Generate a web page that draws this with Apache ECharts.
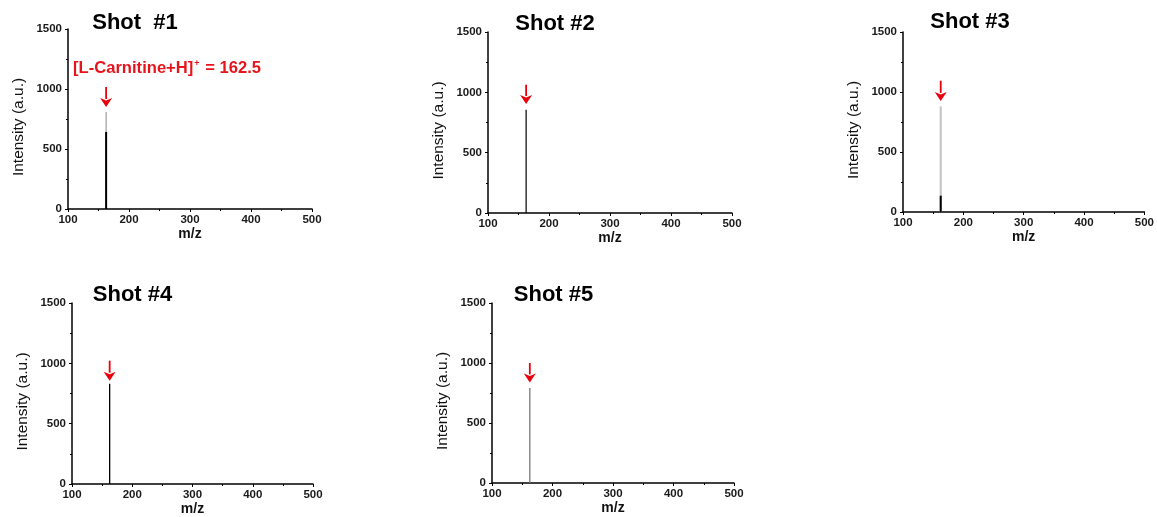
<!DOCTYPE html>
<html><head><meta charset="utf-8">
<script src="https://cdn.jsdelivr.net/npm/echarts@6/dist/echarts.min.js"></script>
<style>html,body{margin:0;padding:0;background:#fff}#c{width:1157px;height:517px}</style>
</head><body><div id="c"></div>
<script>
// ---- data ----
const shotTitles = ['Shot  #1', 'Shot #2', 'Shot #3', 'Shot #4', 'Shot #5'];
const xTickValues = [100, 200, 300, 400, 500];
const yTickValues = [0, 500, 1000, 1500];
const xAxisName = 'm/z';
const yAxisName = 'Intensity (a.u.)';
const peakMz = [162.5, 162.5, 162.5, 162.5, 162.5];
const lightTrace = [808, 0, 880, 0, 792];   // grey spectrum trace peak intensity
const darkTrace = [642, 856, 136, 831, 0];   // black spectrum trace peak intensity
const arrowTop = [1017, 1063, 1094, 1022, 1000];
const arrowTip = [850, 903, 926, 856, 838];
const annotationMain = '[L-Carnitine+H]';
const annotationSup = '+';
const annotationTail = ' = 162.5';

// ---- layout / style ----
const FONT = '"Liberation Sans", Arial, sans-serif';
const grids = [
  {left: 68, top: 29, width: 244, height: 180},
  {left: 488, top: 32, width: 244, height: 181},
  {left: 903, top: 32, width: 244, height: 180},
  {left: 72, top: 303, width: 241, height: 181},
  {left: 492, top: 303, width: 242, height: 180}
];
const titlePos = [[135, 11.5], [555, 12.5], [970, 11], [132.5, 284], [553.5, 284]];
const lightColors = ['#9c9c9c', '#9c9c9c', '#c6c6c6', '#9c9c9c', '#7a7a7a'];
const darkWidths = [2, 1.2, 2, 1.3, 1.2];
const lightWidths = [1.2, 1.2, 2.2, 1.2, 1.3];
const plain = v => String(v);

const xAxes = [], yAxes = [], series = [], titles = [];
grids.forEach((g, i) => {
  xAxes.push({
    type: 'value', gridIndex: i, min: xTickValues[0], max: xTickValues[xTickValues.length - 1],
    interval: xTickValues[1] - xTickValues[0],
    name: xAxisName, nameLocation: 'middle', nameGap: 18,
    nameTextStyle: {fontFamily: FONT, fontWeight: 'bold', fontSize: 14, color: '#111'},
    axisLine: {show: true, onZero: false, lineStyle: {color: '#000', width: 1.5}},
    axisTick: {show: true, length: 3, lineStyle: {color: '#000', width: 1}},
    minorTick: {show: true, splitNumber: 2, length: 2, lineStyle: {color: '#000', width: 1}},
    axisLabel: {fontFamily: FONT, fontWeight: 'bold', fontSize: 11.5, color: '#1a1a1a', margin: 5, formatter: plain},
    splitLine: {show: false}
  });
  yAxes.push({
    type: 'value', gridIndex: i, min: yTickValues[0], max: yTickValues[yTickValues.length - 1],
    interval: yTickValues[1] - yTickValues[0],
    name: yAxisName, nameLocation: 'middle', nameGap: 41,
    nameTextStyle: {fontFamily: FONT, fontSize: 15.5, color: '#111', padding: [0, 16, 0, 0]},
    axisLine: {show: true, onZero: false, lineStyle: {color: '#000', width: 1.5}},
    axisTick: {show: true, length: 3, lineStyle: {color: '#000', width: 1}},
    minorTick: {show: true, splitNumber: 2, length: 2, lineStyle: {color: '#000', width: 1}},
    axisLabel: {fontFamily: FONT, fontWeight: 'bold', fontSize: 11.5, color: '#1a1a1a', margin: 6, formatter: plain},
    splitLine: {show: false}
  });
  titles.push({
    text: shotTitles[i], left: titlePos[i][0], top: titlePos[i][1], textAlign: 'center', padding: 0,
    textStyle: {fontFamily: FONT, fontWeight: 'bold', fontSize: 22, color: '#000'}
  });
  if (lightTrace[i] > 0) {
    series.push({
      type: 'line', xAxisIndex: i, yAxisIndex: i, showSymbol: false, silent: true,
      data: [[peakMz[i], 0], [peakMz[i], lightTrace[i]]],
      lineStyle: {color: lightColors[i], width: lightWidths[i]}, z: 2
    });
  }
  if (darkTrace[i] > 0) {
    series.push({
      type: 'line', xAxisIndex: i, yAxisIndex: i, showSymbol: false, silent: true,
      data: [[peakMz[i], 0], [peakMz[i], darkTrace[i]]],
      lineStyle: {color: '#000', width: darkWidths[i]}, z: 3
    });
  }
  series.push({
    type: 'custom', xAxisIndex: i, yAxisIndex: i, silent: true, z: 4,
    data: [[peakMz[i], arrowTop[i], arrowTip[i]]],
    renderItem: function (params, api) {
      const top = api.coord([api.value(0), api.value(1)]);
      const tip = api.coord([api.value(0), api.value(2)]);
      const hw = 6, hh = 9;
      return {
        type: 'group', children: [
          {type: 'line', shape: {x1: top[0], y1: top[1], x2: tip[0], y2: tip[1] - hh + 1},
           style: {stroke: '#e8000b', lineWidth: 1.8}},
          {type: 'polygon', shape: {points: [[tip[0] - hw, tip[1] - hh], [tip[0], tip[1] - hh + 2.5], [tip[0] + hw, tip[1] - hh], [tip[0], tip[1]]]},
           style: {fill: '#e8000b'}}
        ]
      };
    }
  });
});

titles.push({
  text: '{a|' + annotationMain + '}{s|' + annotationSup + '}{a|' + annotationTail + '}',
  left: 73, top: 59, padding: 0,
  textStyle: {
    rich: {
      a: {fontFamily: FONT, fontWeight: 'bold', fontSize: 16.6, color: '#e8141c', lineHeight: 18},
      s: {fontFamily: FONT, fontWeight: 'bold', fontSize: 9, color: '#e8141c', lineHeight: 18, verticalAlign: 'top', padding: [0, 1, 6, 1]}
    }
  }
});

const chart = echarts.init(document.getElementById('c'), null, {renderer: 'canvas'});
chart.setOption({
  animation: false,
  backgroundColor: '#fff',
  title: titles,
  grid: grids,
  xAxis: xAxes,
  yAxis: yAxes,
  series: series
});
</script>
</body></html>
